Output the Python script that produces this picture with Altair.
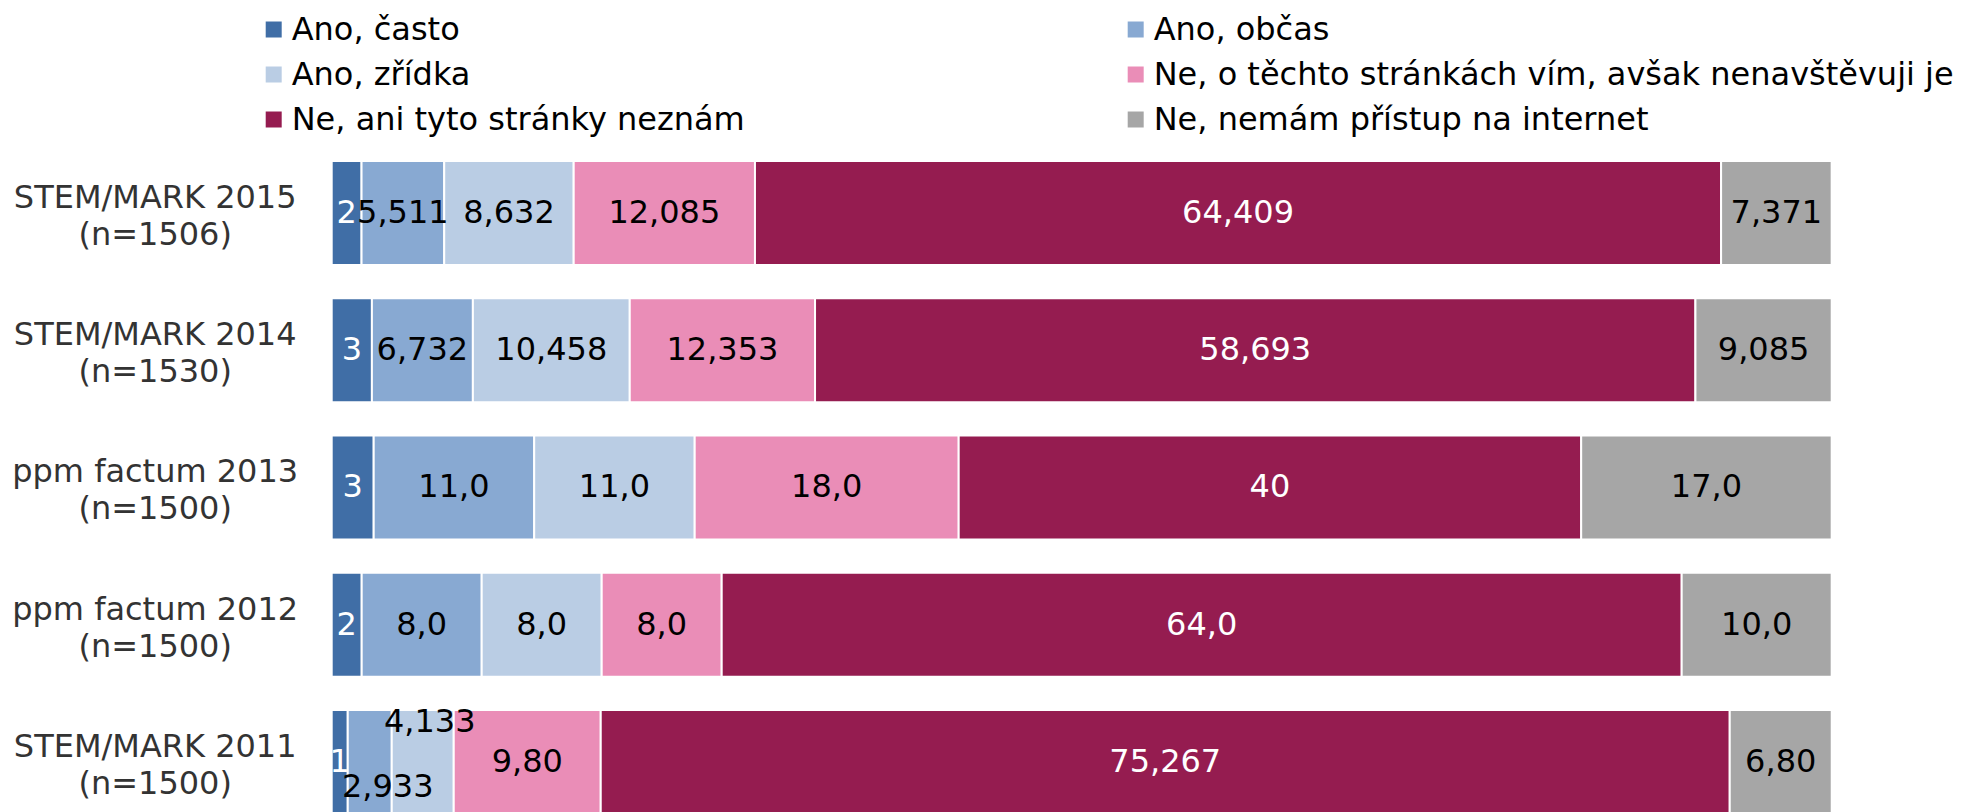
import altair as alt
import pandas as pd

# ---- data ----
rows = ["STEM/MARK 2015", "STEM/MARK 2014", "ppm factum 2013", "ppm factum 2012", "STEM/MARK 2011"]
ns = ["(n=1506)", "(n=1530)", "(n=1500)", "(n=1500)", "(n=1500)"]

categories = [
    "Ano, často",
    "Ano, občas",
    "Ano, zřídka",
    "Ne, o těchto stránkách vím, avšak nenavštěvuji je",
    "Ne, ani tyto stránky neznám",
    "Ne, nemám přístup na internet",
]
colors = ["#406EA6", "#88A9D2", "#BACDE4", "#EA8DB7", "#951C50", "#A6A6A6"]

casto = [1.99, 2.68, 2.8, 2.0, 1.07]
obcas = [5.511, 6.732, 10.7, 8.0, 2.933]
zridka = [8.632, 10.458, 10.7, 8.0, 4.133]
vim = [12.085, 12.353, 17.6, 8.0, 9.80]
neznam = [64.409, 58.693, 41.5, 64.0, 75.267]
bez = [7.371, 9.085, 16.7, 10.0, 6.80]

casto_lbl = ["2", "3", "3", "2", "1"]
obcas_lbl = ["5,511", "6,732", "11,0", "8,0", "2,933"]
zridka_lbl = ["8,632", "10,458", "11,0", "8,0", "4,133"]
vim_lbl = ["12,085", "12,353", "18,0", "8,0", "9,80"]
neznam_lbl = ["64,409", "58,693", "40", "64,0", "75,267"]
bez_lbl = ["7,371", "9,085", "17,0", "10,0", "6,80"]

series = [casto, obcas, zridka, vim, neznam, bez]
labels = [casto_lbl, obcas_lbl, zridka_lbl, vim_lbl, neznam_lbl, bez_lbl]

rowkeys = [f"{r}|{n}" for r, n in zip(rows, ns)]
recs = []
for ci, (cat, vals, lbls) in enumerate(zip(categories, series, labels)):
    for ri, key in enumerate(rowkeys):
        recs.append({"row": key, "ri": ri, "cat": cat, "ci": ci,
                     "value": vals[ri], "label": lbls[ri]})
df = pd.DataFrame(recs)

# legend fills column by column: reorder so it reads row by row like the reference
legend_order = [0, 2, 4, 1, 3, 5]
leg_domain = [categories[i] for i in legend_order]
leg_range = [colors[i] for i in legend_order]

FONT = "DejaVu Sans"

base = alt.Chart(df).transform_stack(
    stack="value", groupby=["row"], as_=["x0", "x1"],
    sort=[alt.SortField("ci", order="ascending")],
).transform_calculate(mid="(datum.x0 + datum.x1) / 2")

yenc = alt.Y(
    "row:N", sort=rowkeys,
    scale=alt.Scale(paddingInner=0.243, paddingOuter=0.12),
    axis=alt.Axis(title=None, labelExpr="split(datum.value, '|')",
                  labelFont=FONT, labelFontSize=32, labelColor="#333333",
                  labelAlign="center", labelBaseline="middle",
                  labelPadding=177, labelLineHeight=37, labelOffset=-15,
                  labelLimit=1000,
                  ticks=False, tickSize=0, domain=False, grid=False),
)
xscale = alt.Scale(domain=[0, 100], nice=False, zero=True)

bars = base.mark_bar(stroke="white", strokeWidth=2).encode(
    x=alt.X("x0:Q", scale=xscale, axis=None),
    x2="x1:Q",
    y=yenc,
    color=alt.Color(
        "cat:N", sort=leg_domain,
        scale=alt.Scale(domain=leg_domain, range=leg_range),
        legend=alt.Legend(title=None, orient="none", legendX=-74, legendY=-131,
                          columns=2, columnPadding=374, rowPadding=13,
                          symbolType="square", symbolSize=256,
                          symbolStrokeWidth=0, labelFont=FONT,
                          labelFontSize=32, labelColor="black",
                          labelLimit=1000, labelOffset=2, padding=0),
    ),
)

txtcolor = alt.condition("datum.ci == 0 || datum.ci == 4",
                         alt.value("white"), alt.value("black"))

special_up = "datum.ri == 4 && datum.ci == 2"
special_dn = "datum.ri == 4 && datum.ci == 1"

texts = base.transform_filter(f"!({special_up}) && !({special_dn})").mark_text(
    font=FONT, fontSize=32).encode(
    x=alt.X("mid:Q", scale=xscale, axis=None),
    y=alt.Y("row:N", sort=rowkeys),
    text="label:N",
    color=txtcolor,
)
text_up = base.transform_filter(special_up).mark_text(
    font=FONT, fontSize=32, dx=7, dy=-40).encode(
    x=alt.X("mid:Q", scale=xscale, axis=None),
    y=alt.Y("row:N", sort=rowkeys),
    text="label:N",
    color=alt.value("black"),
)
text_dn = base.transform_filter(special_dn).mark_text(
    font=FONT, fontSize=32, dx=18, dy=25).encode(
    x=alt.X("mid:Q", scale=xscale, axis=None),
    y=alt.Y("row:N", sort=rowkeys),
    text="label:N",
    color=alt.value("black"),
)

chart = alt.layer(bars, texts, text_up, text_dn).properties(
    width=1500, height=686,
    background="white",
    autosize=alt.AutoSizeParams(type="none"),
    padding={"left": 323.7, "top": 136.5, "right": 140, "bottom": 0},
).configure_view(stroke=None)

chart.save("out.html", embed_options={"renderer": "svg", "actions": False})
